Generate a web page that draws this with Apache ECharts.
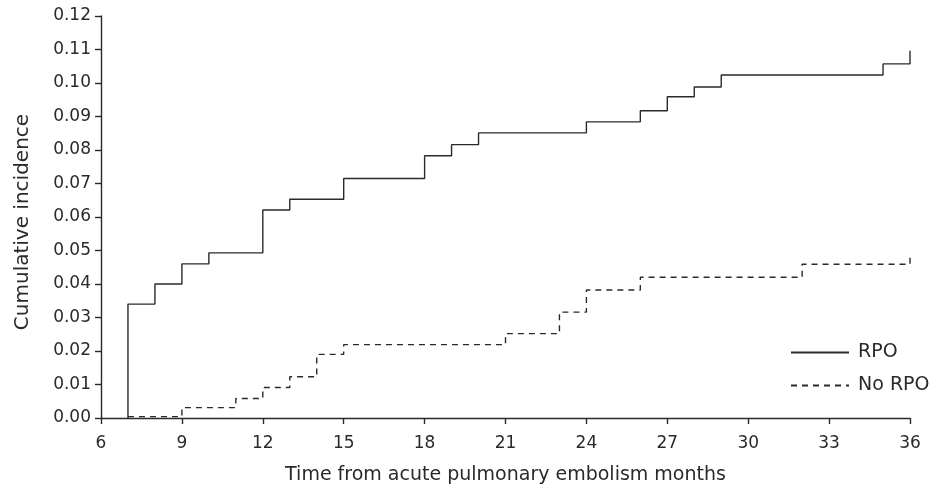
<!DOCTYPE html>
<html>
<head>
<meta charset="utf-8">
<script src="https://cdn.jsdelivr.net/npm/echarts@6/dist/echarts.min.js"></script>
<style>
html,body{margin:0;padding:0;background:#fff;}
#chart{width:942px;height:487px;}
</style>
</head>
<body>
<div id="chart"></div>
<script>
// Data (month, cumulative incidence after the step)
const rpoMonths   = [7, 7, 8, 9, 10, 12, 13, 15, 18, 19, 20, 24, 26, 27, 28, 29, 35, 36];
const rpoValues   = [0, 0.034, 0.040, 0.046, 0.0493, 0.0621, 0.0653, 0.0715, 0.0783, 0.0816, 0.0851, 0.0884, 0.0917, 0.0959, 0.0988, 0.1024, 0.1057, 0.1096];
const noRpoMonths = [7, 9, 11, 12, 13, 14, 15, 21, 23, 24, 26, 32, 36];
const noRpoValues = [0.0004, 0.0031, 0.0058, 0.0091, 0.0123, 0.0190, 0.0219, 0.0252, 0.0316, 0.0382, 0.0420, 0.0459, 0.0489];
const seriesNames = ['RPO', 'No RPO'];
const xTitle = 'Time from acute pulmonary embolism months';
const yTitle = 'Cumulative incidence';

const FONT = 'DejaVu Sans';
const FS = 17;      // tick labels
const FS_T = 19;    // titles and legend
const INK = '#2a2a2a';

const chart = echarts.init(document.getElementById('chart'), null, {renderer: 'canvas'});
const zip = (xs, ys) => xs.map((x, i) => [x, ys[i]]);

chart.setOption({
  animation: false,
  backgroundColor: '#fff',
  textStyle: {fontFamily: FONT, color: INK},
  grid: {left: 101, right: 32, top: 16, bottom: 69, containLabel: false, outerBoundsMode: 'none'},
  legend: {
    orient: 'vertical',
    left: 785, top: 338,
    itemWidth: 58, itemHeight: 14, itemGap: 14,
    itemStyle: {opacity: 0},
    textStyle: {fontFamily: FONT, fontSize: FS_T, color: INK, padding: [0, 0, 0, 4]},
    data: seriesNames
  },
  xAxis: {
    type: 'value', min: 6, max: 36, interval: 3,
    name: xTitle, nameLocation: 'middle', nameGap: 48,
    nameTextStyle: {fontFamily: FONT, fontSize: FS_T, color: INK},
    axisLine: {show: true, onZero: false, lineStyle: {color: INK, width: 1.4}},
    axisTick: {show: true, length: 6, lineStyle: {color: INK, width: 1.4}},
    axisLabel: {fontFamily: FONT, fontSize: FS, color: INK, margin: 17},
    splitLine: {show: false}
  },
  yAxis: {
    type: 'value', min: 0, max: 0.12, interval: 0.01,
    name: yTitle, nameLocation: 'middle', nameGap: 68, nameRotate: 90,
    nameTextStyle: {fontFamily: FONT, fontSize: 20, color: INK, padding: [0, 10, 0, 0]},
    axisLine: {show: true, lineStyle: {color: INK, width: 1.4}},
    axisTick: {show: true, length: 6, lineStyle: {color: INK, width: 1.4}},
    axisLabel: {fontFamily: FONT, fontSize: FS, color: INK, margin: 10,
      formatter: v => v.toFixed(2)},
    splitLine: {show: false}
  },
  series: [
    {
      name: seriesNames[0], type: 'line', step: 'end',
      data: zip(rpoMonths, rpoValues),
      symbol: 'none', showSymbol: false,
      lineStyle: {color: INK, width: 1.4, type: 'solid'},
      itemStyle: {color: INK}
    },
    {
      name: seriesNames[1], type: 'line', step: 'end',
      data: zip(noRpoMonths, noRpoValues),
      symbol: 'none', showSymbol: false,
      lineStyle: {color: INK, width: 1.4, type: [6, 5]},
      itemStyle: {color: INK}
    }
  ]
});
</script>
</body>
</html>
